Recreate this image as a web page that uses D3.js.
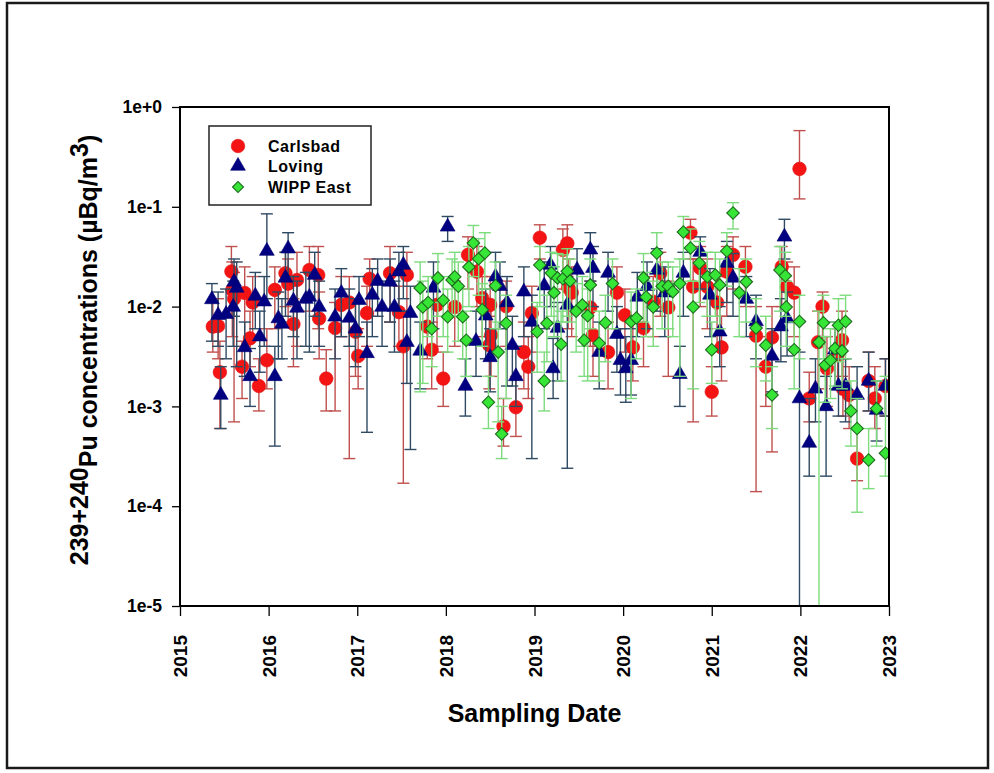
<!DOCTYPE html>
<html>
<head>
<meta charset="utf-8">
<script src="https://cdn.jsdelivr.net/npm/d3@7"></script>
<style>
  html, body { margin: 0; padding: 0; background: #fff; }
  svg text { font-family: "Liberation Sans", Arial, Helvetica, sans-serif; font-weight: bold; fill: #000; }
</style>
</head>
<body>
<script>
// Air-filter 239+240Pu results, one row per sample: [decimal year, value, lower bound, upper bound] (µBq/m3)
const carlsbad = [
  [2015.37,0.0063,0.0035,0.011],[2015.43,0.0064,0.003,0.012],[2015.45,0.0022,0.0006,0.0045],
  [2015.58,0.0225,0.008,0.04],[2015.59,0.0147,0.005,0.028],[2015.61,0.012,0.0007,0.022],
  [2015.70,0.0025,0.0012,0.0045],[2015.73,0.0137,0.004,0.025],[2015.79,0.0048,0.0025,0.009],
  [2015.82,0.011,0.005,0.02],[2015.89,0.0016,0.0009,0.003],[2015.98,0.0029,0.0015,0.006],
  [2016.07,0.0147,0.006,0.025],[2016.19,0.0216,0.01,0.035],[2016.22,0.017,0.007,0.03],
  [2016.28,0.0067,0.0025,0.012],[2016.32,0.0185,0.004,0.035],[2016.46,0.0233,0.009,0.04],
  [2016.56,0.0207,0.006,0.04],[2016.57,0.0076,0.003,0.014],[2016.65,0.0019,0.0009,0.0037],
  [2016.75,0.0061,0.0009,0.011],[2016.82,0.0104,0.005,0.02],[2016.91,0.011,0.0003,0.02],
  [2016.98,0.0056,0.002,0.011],[2017.01,0.0032,0.0015,0.006],[2017.11,0.0086,0.004,0.016],
  [2017.14,0.019,0.008,0.03],[2017.37,0.0216,0.007,0.04],[2017.47,0.0088,0.004,0.016],
  [2017.52,0.004,0.00017,0.008],[2017.56,0.0207,0.008,0.035],[2017.79,0.0063,0.003,0.011],
  [2017.84,0.0037,0.0015,0.007],[2017.90,0.0104,0.004,0.02],[2017.97,0.0019,0.001,0.0035],
  [2018.10,0.0099,0.004,0.018],[2018.25,0.033,0.015,0.05],[2018.35,0.0224,0.01,0.04],
  [2018.41,0.0122,0.005,0.02],[2018.49,0.0041,0.0015,0.008],[2018.50,0.0104,0.004,0.02],
  [2018.51,0.0052,0.002,0.01],[2018.65,0.00063,0.0004,0.0012],[2018.68,0.0101,0.004,0.018],
  [2018.79,0.00098,0.0005,0.002],[2018.88,0.0035,0.0015,0.007],[2018.93,0.0025,0.0012,0.005],
  [2018.97,0.0086,0.0035,0.016],[2019.06,0.049,0.03,0.066],[2019.32,0.037,0.015,0.06],
  [2019.37,0.043,0.02,0.066],[2019.38,0.0155,0.006,0.03],[2019.42,0.0138,0.005,0.025],
  [2019.63,0.0098,0.004,0.018],[2019.66,0.0052,0.002,0.01],[2019.83,0.0035,0.0015,0.007],
  [2019.93,0.0138,0.006,0.025],[2020.02,0.0082,0.0035,0.015],[2020.11,0.0039,0.0018,0.008],
  [2020.23,0.0061,0.0025,0.012],[2020.34,0.0112,0.005,0.02],[2020.42,0.0217,0.008,0.035],
  [2020.51,0.0098,0.002,0.018],[2020.76,0.055,0.03,0.075],[2020.79,0.0158,0.0007,0.03],
  [2020.87,0.0243,0.01,0.04],[2020.95,0.0158,0.006,0.03],[2021.00,0.0014,0.0008,0.0025],
  [2021.06,0.011,0.004,0.02],[2021.11,0.0039,0.0018,0.008],[2021.17,0.0224,0.008,0.04],
  [2021.24,0.033,0.015,0.05],[2021.38,0.0251,0.01,0.04],[2021.50,0.0051,0.00014,0.01],
  [2021.61,0.0025,0.001,0.005],[2021.68,0.0049,0.00035,0.01],[2021.79,0.0251,0.01,0.04],
  [2021.85,0.0158,0.007,0.028],[2021.93,0.0138,0.005,0.025],[2021.99,0.24,0.12,0.58],
  [2022.10,0.0012,0.0007,0.0022],[2022.20,0.0044,0.0015,0.009],[2022.25,0.01,0.005,0.014],
  [2022.30,0.0024,0.001,0.005],[2022.42,0.0033,0.0015,0.006],[2022.47,0.0046,0.002,0.009],
  [2022.48,0.0015,0.0008,0.003],[2022.55,0.0013,0.0006,0.0025],[2022.64,0.0003,0.00018,0.0006],
  [2022.77,0.0018,0.0009,0.0035],[2022.84,0.0012,0.0006,0.0025],[2022.96,0.0016,0.0008,0.003]
];

const loving = [
  [2015.36,0.0118,0.0045,0.017],[2015.43,0.0082,0.004,0.014],[2015.46,0.0013,0.0006,0.0025],
  [2015.52,0.0084,0.003,0.015],[2015.60,0.0099,0.004,0.018],[2015.61,0.0177,0.008,0.03],
  [2015.64,0.0154,0.0025,0.028],[2015.73,0.0039,0.002,0.007],[2015.79,0.002,0.001,0.0038],
  [2015.85,0.0128,0.006,0.022],[2015.90,0.005,0.0022,0.009],[2015.95,0.0112,0.004,0.02],
  [2015.98,0.036,0.012,0.085],[2016.07,0.002,0.0004,0.004],[2016.11,0.0076,0.003,0.014],
  [2016.15,0.0067,0.003,0.012],[2016.19,0.0194,0.008,0.035],[2016.22,0.038,0.02,0.055],
  [2016.28,0.0114,0.005,0.02],[2016.32,0.0097,0.003,0.018],[2016.42,0.0119,0.004,0.022],
  [2016.46,0.0125,0.0035,0.022],[2016.52,0.0207,0.008,0.035],[2016.57,0.0099,0.004,0.018],
  [2016.75,0.0079,0.003,0.015],[2016.82,0.0137,0.005,0.024],[2016.91,0.0077,0.004,0.015],
  [2016.98,0.006,0.0025,0.012],[2017.02,0.0116,0.005,0.02],[2017.11,0.0034,0.00055,0.007],
  [2017.17,0.0131,0.005,0.024],[2017.23,0.018,0.008,0.03],[2017.28,0.0099,0.004,0.018],
  [2017.37,0.0177,0.007,0.03],[2017.42,0.0099,0.0035,0.018],[2017.47,0.0224,0.009,0.035],
  [2017.52,0.0261,0.012,0.04],[2017.56,0.0044,0.0017,0.009],[2017.60,0.0086,0.00037,0.016],
  [2017.71,0.0036,0.0015,0.007],[2017.86,0.0154,0.006,0.028],[2018.02,0.063,0.045,0.08],
  [2018.22,0.0016,0.0008,0.003],[2018.34,0.0045,0.002,0.009],[2018.45,0.0081,0.003,0.015],
  [2018.50,0.0031,0.0014,0.006],[2018.56,0.0199,0.0035,0.035],[2018.61,0.016,0.006,0.028],
  [2018.69,0.011,0.0016,0.02],[2018.75,0.0041,0.0016,0.008],[2018.79,0.002,0.001,0.004],
  [2018.88,0.0141,0.005,0.025],[2018.97,0.007,0.0003,0.013],[2019.11,0.0162,0.006,0.028],
  [2019.18,0.0261,0.01,0.04],[2019.21,0.0024,0.0012,0.0048],[2019.26,0.0061,0.0018,0.011],
  [2019.37,0.0104,0.00024,0.02],[2019.48,0.0233,0.01,0.038],[2019.63,0.0371,0.018,0.055],
  [2019.66,0.0243,0.01,0.04],[2019.73,0.0035,0.0015,0.007],[2019.83,0.0217,0.009,0.035],
  [2019.93,0.0053,0.0022,0.01],[2019.97,0.0029,0.0013,0.006],[2020.03,0.0024,0.0011,0.005],
  [2020.09,0.0029,0.0013,0.006],[2020.16,0.0125,0.005,0.022],[2020.27,0.016,0.006,0.028],
  [2020.38,0.0233,0.009,0.038],[2020.47,0.0138,0.005,0.025],[2020.64,0.0021,0.001,0.004],
  [2020.68,0.0217,0.008,0.035],[2020.87,0.0352,0.015,0.05],[2020.98,0.0131,0.005,0.024],
  [2021.09,0.0056,0.0025,0.01],[2021.17,0.0273,0.011,0.045],[2021.24,0.0194,0.008,0.034],
  [2021.39,0.0119,0.005,0.02],[2021.50,0.0071,0.003,0.013],[2021.68,0.0032,0.0014,0.006],
  [2021.78,0.0063,0.0028,0.012],[2021.82,0.05,0.03,0.075],[2021.85,0.0076,0.0032,0.014],
  [2021.99,0.0012,0.000001,0.0035],[2022.10,0.00043,0.0002,0.0012],[2022.17,0.0015,0.0007,0.003],
  [2022.29,0.001,0.0002,0.002],[2022.39,0.0037,0.0015,0.007],[2022.43,0.0016,0.0008,0.003],
  [2022.51,0.0016,0.0007,0.003],[2022.64,0.0013,0.0006,0.0025],[2022.77,0.0018,0.0009,0.0035],
  [2022.86,0.00092,0.00045,0.0018],[2022.96,0.0016,0.0008,0.003]
];

const wippEast = [
  [2017.71,0.0154,0.0014,0.028],[2017.74,0.0099,0.0017,0.018],[2017.80,0.011,0.005,0.02],
  [2017.84,0.006,0.0025,0.011],[2017.91,0.0194,0.008,0.034],[2017.97,0.0116,0.005,0.02],
  [2018.02,0.0079,0.0035,0.015],[2018.07,0.0185,0.008,0.03],[2018.10,0.0199,0.008,0.035],
  [2018.14,0.016,0.0045,0.028],[2018.19,0.0079,0.003,0.015],[2018.23,0.0046,0.002,0.009],
  [2018.26,0.025,0.01,0.04],[2018.31,0.0434,0.02,0.065],[2018.37,0.0301,0.013,0.048],
  [2018.41,0.0093,0.004,0.017],[2018.44,0.0345,0.015,0.055],[2018.48,0.0011,0.0006,0.002],
  [2018.56,0.0162,0.006,0.028],[2018.59,0.0035,0.0007,0.007],[2018.63,0.00053,0.0003,0.001],
  [2018.68,0.0068,0.0012,0.013],[2019.03,0.0056,0.0022,0.011],[2019.06,0.0261,0.01,0.04],
  [2019.11,0.0018,0.0009,0.0035],[2019.14,0.0068,0.0028,0.013],[2019.19,0.0217,0.008,0.035],
  [2019.22,0.0138,0.005,0.025],[2019.26,0.0194,0.007,0.034],[2019.30,0.0042,0.0018,0.009],
  [2019.32,0.019,0.007,0.033],[2019.37,0.0226,0.008,0.038],[2019.40,0.0181,0.007,0.03],
  [2019.47,0.009,0.0035,0.017],[2019.54,0.0104,0.004,0.02],[2019.56,0.0046,0.002,0.009],
  [2019.60,0.0081,0.0018,0.015],[2019.63,0.0165,0.006,0.03],[2019.73,0.0043,0.0018,0.009],
  [2019.80,0.0069,0.0028,0.013],[2019.88,0.017,0.006,0.03],[2020.09,0.0071,0.0012,0.014],
  [2020.15,0.0077,0.003,0.015],[2020.23,0.0194,0.007,0.034],[2020.26,0.0125,0.005,0.022],
  [2020.34,0.0099,0.004,0.018],[2020.38,0.0345,0.015,0.055],[2020.44,0.016,0.006,0.028],
  [2020.51,0.016,0.006,0.028],[2020.56,0.0141,0.005,0.025],[2020.64,0.017,0.002,0.03],
  [2020.68,0.0559,0.03,0.08],[2020.76,0.0387,0.018,0.06],[2020.79,0.0099,0.0015,0.018],
  [2020.86,0.0273,0.011,0.045],[2020.95,0.0199,0.008,0.035],[2021.00,0.0037,0.0017,0.007],
  [2021.04,0.0207,0.008,0.035],[2021.09,0.0165,0.006,0.03],[2021.17,0.0361,0.016,0.055],
  [2021.24,0.0867,0.06,0.11],[2021.31,0.0138,0.005,0.024],[2021.39,0.0177,0.007,0.03],
  [2021.50,0.0061,0.0025,0.012],[2021.61,0.0041,0.0018,0.008],[2021.68,0.0013,0.0006,0.0025],
  [2021.77,0.0233,0.009,0.04],[2021.83,0.0204,0.008,0.035],[2021.84,0.0099,0.004,0.018],
  [2021.93,0.0037,0.0015,0.007],[2021.99,0.0071,0.003,0.013],[2022.21,0.0044,0.000001,0.009],
  [2022.26,0.0069,0.003,0.013],[2022.28,0.0026,0.0011,0.005],[2022.34,0.0029,0.0012,0.006],
  [2022.39,0.0038,0.0016,0.007],[2022.43,0.0065,0.0028,0.012],[2022.47,0.0036,0.0015,0.007],
  [2022.51,0.0071,0.003,0.013],[2022.57,0.0009,0.0004,0.0018],[2022.64,0.0006,0.000087,0.0012],
  [2022.77,0.00029,0.00015,0.0006],[2022.86,0.00095,0.0004,0.0018],[2022.96,0.00034,0.0002,0.002]
];

const seriesNames = ["Carlsbad", "Loving", "WIPP East"];
const xTicks = [2015, 2016, 2017, 2018, 2019, 2020, 2021, 2022, 2023];
const yTicks = [1, 1e-1, 1e-2, 1e-3, 1e-4, 1e-5];
const yTickLabels = ["1e+0", "1e-1", "1e-2", "1e-3", "1e-4", "1e-5"];

const W = 994, H = 773;
const plot = { left: 180, right: 889, top: 107, bottom: 606 };

const x = d3.scaleLinear().domain([2015, 2023]).range([plot.left, plot.right]);
const y = d3.scaleLog().domain([1e-5, 1]).range([plot.bottom, plot.top]);

const svg = d3.select("body").append("svg")
  .attr("width", W).attr("height", H)
  .style("display", "block");

svg.append("rect").attr("width", W).attr("height", H).attr("fill", "#fff");

// outer frame
svg.append("rect")
  .attr("x", 7).attr("y", 3).attr("width", 981).attr("height", 765)
  .attr("fill", "none").attr("stroke", "#1a1a1a").attr("stroke-width", 2.5);

svg.append("clipPath").attr("id", "plotClip")
  .append("rect")
  .attr("x", plot.left).attr("y", plot.top)
  .attr("width", plot.right - plot.left).attr("height", plot.bottom - plot.top);

const styles = [
  { data: carlsbad, bar: "#c0504f", fill: "#f51414", stroke: "#e01010",
    symbol: d3.symbol().type(d3.symbolCircle).size(145), rotate: 0 },
  { data: loving, bar: "#2f4a63", fill: "#000080", stroke: "#000070",
    symbol: d3.symbol().type(d3.symbolTriangle).size(95), rotate: 0 },
  { data: wippEast, bar: "#7ddc7d", fill: "#36e536", stroke: "#1e6b1e",
    symbol: d3.symbol().type(d3.symbolSquare).size(78), rotate: 45 }
];

const capHalf = 6;
const dataLayer = svg.append("g").attr("clip-path", "url(#plotClip)");

styles.forEach((s, i) => {
  const g = dataLayer.append("g").attr("class", "series-" + i);
  const bars = g.append("g")
    .attr("stroke", s.bar).attr("stroke-width", 1.4).attr("fill", "none");

  s.data.forEach(d => {
    const cx = x(d[0]);
    const yHi = y(d[3]);
    const yLo = y(Math.max(d[2], 1e-6));
    bars.append("line").attr("x1", cx).attr("x2", cx).attr("y1", yHi).attr("y2", yLo);
    bars.append("line").attr("x1", cx - capHalf).attr("x2", cx + capHalf).attr("y1", yHi).attr("y2", yHi);
    if (d[2] >= 1e-5) {
      bars.append("line").attr("x1", cx - capHalf).attr("x2", cx + capHalf).attr("y1", yLo).attr("y2", yLo);
    }
  });

  g.append("g").selectAll("path").data(s.data).join("path")
    .attr("d", s.symbol)
    .attr("transform", d => `translate(${x(d[0])},${y(d[1])}) rotate(${s.rotate})`)
    .attr("fill", s.fill)
    .attr("stroke", s.stroke)
    .attr("stroke-width", i === 2 ? 1.1 : 0.6);
});

// plot frame
svg.append("rect")
  .attr("x", plot.left).attr("y", plot.top)
  .attr("width", plot.right - plot.left).attr("height", plot.bottom - plot.top)
  .attr("fill", "none").attr("stroke", "#000").attr("stroke-width", 2);

// y axis
const yAxis = svg.append("g")
  .attr("transform", `translate(${plot.left},0)`)
  .call(d3.axisLeft(y).tickValues(yTicks).tickSize(8).tickPadding(10)
    .tickFormat((d, i) => yTickLabels[i]));
yAxis.select(".domain").remove();
yAxis.selectAll(".tick line").attr("stroke", "#000").attr("stroke-width", 1.3);
yAxis.selectAll(".tick text")
  .style("font-size", "17.5px").style("font-family", null).attr("fill", "#000");

// x axis
const xAxis = svg.append("g")
  .attr("transform", `translate(0,${plot.bottom})`)
  .call(d3.axisBottom(x).tickValues(xTicks).tickSize(10).tickFormat(d3.format("d")));
xAxis.select(".domain").remove();
xAxis.selectAll(".tick line").attr("stroke", "#000").attr("stroke-width", 1.3);
xAxis.selectAll(".tick text")
  .style("font-size", "19px").style("font-family", null).attr("fill", "#000")
  .attr("text-anchor", "end")
  .attr("dy", null).attr("y", null)
  .attr("dominant-baseline", "central")
  .attr("transform", "translate(0,29) rotate(-90)");

// axis titles
svg.append("text")
  .attr("x", (plot.left + plot.right) / 2).attr("y", 722)
  .attr("text-anchor", "middle")
  .style("font-size", "25px")
  .text("Sampling Date");

const yTitle = svg.append("text")
  .attr("transform", `translate(97,350) rotate(-90)`)
  .attr("text-anchor", "middle")
  .style("font-size", "25px");
yTitle.append("tspan").attr("dy", "-0.38em").text("239+240");
yTitle.append("tspan").attr("dy", "0.38em").text("Pu concentrations (µBq/m");
yTitle.append("tspan").attr("dy", "-0.38em").text("3");
yTitle.append("tspan").attr("dy", "0.38em").text(")");

// legend
const legend = svg.append("g");
legend.append("rect")
  .attr("x", 209).attr("y", 126).attr("width", 162).attr("height", 79)
  .attr("fill", "#fff").attr("stroke", "#222").attr("stroke-width", 1.5);
const legendRows = [146, 166, 187];
styles.forEach((s, i) => {
  legend.append("path")
    .attr("d", i === 2 ? d3.symbol().type(d3.symbolSquare).size(60)() : s.symbol())
    .attr("transform", `translate(238,${legendRows[i]}) rotate(${s.rotate})`)
    .attr("fill", s.fill).attr("stroke", s.stroke)
    .attr("stroke-width", i === 2 ? 1.1 : 0.6);
  legend.append("text")
    .attr("x", 268).attr("y", legendRows[i])
    .attr("dominant-baseline", "central")
    .style("font-size", "16px").style("letter-spacing", "0.5px")
    .text(seriesNames[i]);
});
</script>
</body>
</html>
